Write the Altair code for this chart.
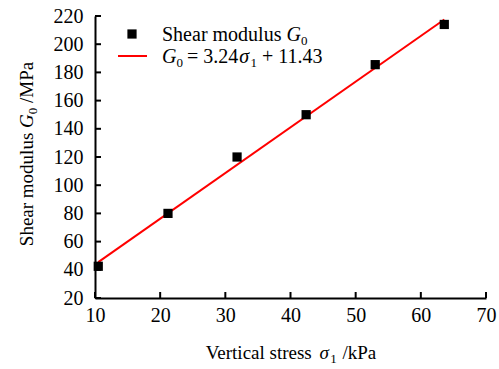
import altair as alt
import pandas as pd

# ---------------- data ----------------
stress = [10.5, 21.2, 31.8, 42.4, 53.0, 63.6]          # vertical stress sigma1 (kPa)
modulus = [42.5, 80.0, 120.0, 150.0, 185.5, 214.0]      # shear modulus G0 (MPa)
slope = 3.24
intercept = 11.43
fit_x = [10.5, 63.6]
x_ticks = [10, 20, 30, 40, 50, 60, 70]
y_ticks = [20, 40, 60, 80, 100, 120, 140, 160, 180, 200, 220]

pts = pd.DataFrame({"x": stress, "y": modulus})
fit = pd.DataFrame({"x": fit_x, "y": [slope * v + intercept for v in fit_x]})

# ---------------- layout ----------------
W, H = 391, 282
OX, OY = 95, 16
FONT = "Liberation Serif"
FS = 20      # tick labels / legend
FT = 19      # axis titles
SUB = 13
SUBDY = 3.5

xs = alt.Scale(domain=[10, 70], nice=False, zero=False)
ys = alt.Scale(domain=[20, 220], nice=False, zero=False)

REG = {' ': 250, 'S': 556, 'h': 500, 'e': 444, 'a': 444, 'r': 333, 'm': 778, 'o': 500,
       'd': 500, 'u': 500, 'l': 278, 's': 389, 'V': 722, 't': 278, 'i': 278, 'c': 444,
       'k': 500, 'P': 556, '/': 278, 'M': 889, '=': 564, '+': 564, '.': 250}
for dch in "0123456789":
    REG[dch] = 500
ITA = {'G': 722, 'σ': 560}


def tw(s, size, italic=False):
    tab = ITA if italic else REG
    return sum(tab.get(c, 500) for c in s) * size / 1000.0


def one():
    return alt.Data(values=[{"a": 1}])


def piece(text, x, y, size, italic=False, angle=0):
    kw = dict(text=text, font=FONT, fontSize=size, align="left", baseline="alphabetic",
              color="black")
    if italic:
        kw["fontStyle"] = "italic"
    if angle:
        kw["angle"] = angle
    return alt.Chart(one()).mark_text(**kw).encode(
        x=alt.value(x - OX), y=alt.value(y - OY))


def hrow(segs, x0, base):
    """segs: list of (text, size, italic, is_sub, gap_before)"""
    out = []
    x = x0
    for text, size, ital, sub, gap in segs:
        x += gap
        out.append(piece(text, x, base + (SUBDY if sub else 0), size, ital))
        x += tw(text, size, ital)
    return out, x


def vrow(segs, y0, basex):
    out = []
    y = y0
    for text, size, ital, sub, gap in segs:
        y -= gap
        out.append(piece(text, basex + (SUBDY if sub else 0), y, size, ital, angle=270))
        y -= tw(text, size, ital)
    return out, y


SPT = tw(' ', FT)
SPL = tw(' ', FS)

# x title
xsegs = [("Vertical stress", FT, False, False, 0), ("σ", FT, True, False, SPT + 1),
         ("1", SUB, False, True, 0), ("/kPa", FT, False, False, SPT + 1)]
_, xend = hrow(xsegs, 0, 0)
xt, _ = hrow(xsegs, 291 - xend / 2, 359)

# y title
ysegs = [("Shear modulus", FT, False, False, 0), ("G", FT, True, False, SPT),
         ("0", SUB, False, True, 0), ("/MPa", FT, False, False, SPT)]
_, yend = vrow(ysegs, 0, 0)
yt, _ = vrow(ysegs, 154 - yend / 2, 33)

# legend text
l1, _ = hrow([("Shear modulus", FS, False, False, 0), ("G", FS, True, False, SPL),
              ("0", SUB, False, True, 0)], 162, 41)
l2, _ = hrow([("G", FS, True, False, 0), ("0", SUB, False, True, 0),
              ("= 3.24", FS, False, False, 4), ("σ", FS, True, False, 1),
              ("1", SUB, False, True, 0), ("+ 11.43", FS, False, False, SPL)], 162, 63)

# ---------------- marks ----------------
axis_x = alt.Axis(values=x_ticks, labelPadding=7, title=None, format="d")
axis_y = alt.Axis(values=y_ticks, labelPadding=12, title=None, format="d")

line = alt.Chart(fit).mark_line(color="#FF0000", strokeWidth=2).encode(
    x=alt.X("x:Q", scale=xs, axis=axis_x), y=alt.Y("y:Q", scale=ys, axis=axis_y))

squares = alt.Chart(pts).mark_square(color="black", opacity=1, size=85).encode(
    x=alt.X("x:Q", scale=xs, axis=axis_x), y=alt.Y("y:Q", scale=ys, axis=axis_y))

xtick_df = pd.DataFrame({"v": x_ticks})
ytick_df = pd.DataFrame({"v": y_ticks})
xtk = alt.Chart(xtick_df).mark_rule(color="black", strokeWidth=2).encode(
    x=alt.X("v:Q", scale=xs, axis=axis_x), y=alt.value(H), y2=alt.value(H - 6))
ytk = alt.Chart(ytick_df).mark_rule(color="black", strokeWidth=2).encode(
    y=alt.Y("v:Q", scale=ys, axis=axis_y), x=alt.value(0), x2=alt.value(6))

leg_sq = alt.Chart(one()).mark_square(color="black", opacity=1, size=85).encode(
    x=alt.value(132 - OX), y=alt.value(34 - OY))
leg_ln = alt.Chart(one()).mark_rule(color="#FF0000", strokeWidth=2).encode(
    x=alt.value(118 - OX), x2=alt.value(147 - OX), y=alt.value(56 - OY))

chart = alt.layer(line, squares, xtk, ytk, leg_sq, leg_ln, *xt, *yt, *l1, *l2).properties(
    width=W, height=H, autosize="none", background="white",
    padding={"left": OX, "top": OY, "right": 499 - OX - W, "bottom": 369 - OY - H},
).configure_view(stroke=None).configure_axis(
    ticks=False, tickSize=0, grid=False, domainColor="black", domainWidth=2,
    labelFont=FONT, labelFontSize=FS, labelColor="black", labelOverlap=False,
    labelFlush=False, labelBound=False)

chart.save("out.html", embed_options={"renderer": "svg", "actions": False})
